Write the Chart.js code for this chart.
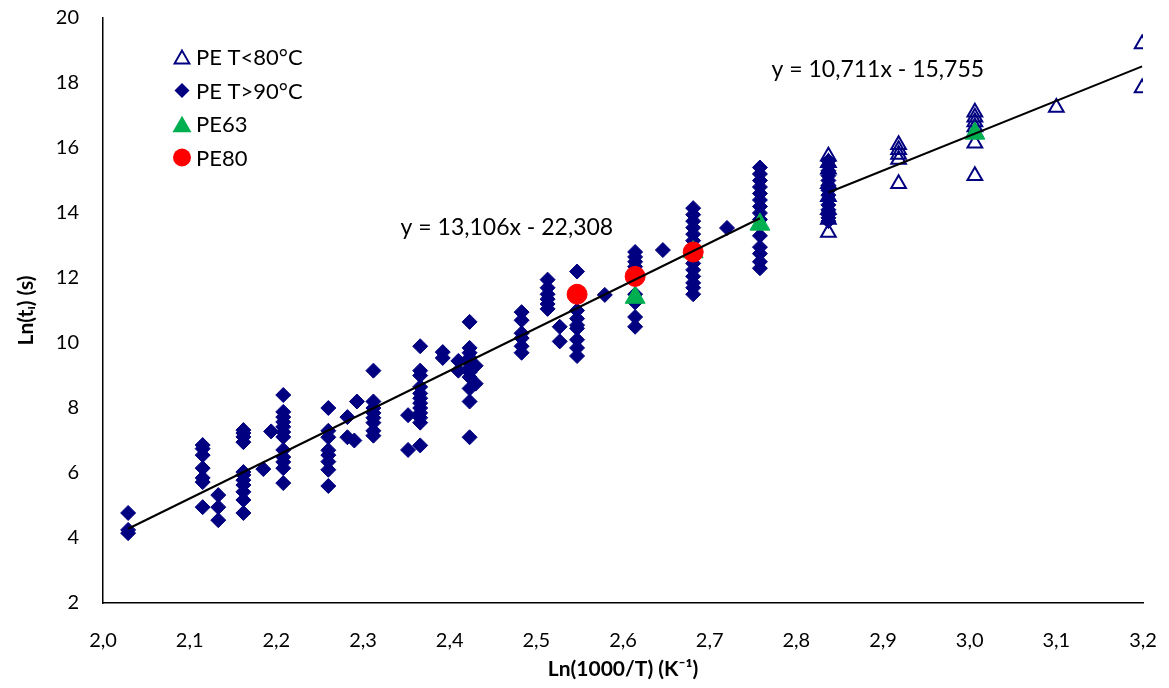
<!DOCTYPE html>
<html>
<head>
<meta charset="utf-8">
<script src="https://cdn.jsdelivr.net/npm/chart.js"></script>
<style>
    html, body { margin: 0; padding: 0; background: #fff; }
    #wrap { width: 1169px; height: 688px; }
</style>
</head>
<body>
<div id="wrap"><canvas id="myScatterChart"></canvas></div>
<script>
// PE T>90°C: vị trí cột Ln(1000/T) và các giá trị Ln(ti) của mỗi cột
const hotColumnsX = [2.029, 2.115, 2.133, 2.162, 2.185, 2.194, 2.208, 2.26, 2.282, 2.29, 2.293, 2.312,
    2.352, 2.366, 2.392, 2.41, 2.423, 2.43, 2.483, 2.513, 2.527, 2.547, 2.579, 2.614, 2.646, 2.681,
    2.72, 2.758, 2.837];
const hotColumnsY = [
    [4.77, 4.25, 4.15],
    [6.86, 6.75, 6.55, 6.15, 5.85, 5.72, 4.95],
    [5.32, 4.95, 4.55],
    [7.32, 7.23, 7.11, 6.95, 6.03, 5.94, 5.78, 5.63, 5.42, 5.17, 4.77],
    [6.12],
    [7.28],
    [8.4, 7.88, 7.72, 7.57, 7.42, 7.26, 7.11, 6.71, 6.49, 6.34, 6.15, 5.69],
    [8.0, 7.3, 7.1, 6.7, 6.55, 6.35, 6.1, 5.6],
    [7.72, 7.1],
    [7.0],
    [8.2],
    [9.15, 8.2, 8.0, 7.85, 7.7, 7.55, 7.3, 7.15],
    [7.78, 6.71],
    [9.9, 9.15, 9.0, 8.65, 8.45, 8.3, 8.15, 8.0, 7.85, 7.7, 7.55, 6.85],
    [9.72, 9.54],
    [9.45, 9.15],
    [10.65, 9.85, 9.7, 9.55, 9.4, 9.25, 9.1, 8.95, 8.6, 8.2, 7.1],
    [9.3, 8.75],
    [10.95, 10.7, 10.3, 10.15, 9.9, 9.7],
    [11.95, 11.7, 11.5, 11.35, 11.2, 11.05],
    [10.5, 10.05],
    [12.2, 11.0, 10.75, 10.55, 10.45, 10.1, 9.85, 9.6],
    [11.48],
    [12.8, 12.65, 12.5, 12.35, 12.2, 11.5, 11.25, 10.8, 10.5],
    [12.86],
    [14.15, 13.95, 13.75, 13.55, 13.35, 13.15, 12.95, 12.65, 12.45, 12.25, 12.05, 11.85, 11.7, 11.5],
    [13.54],
    [15.4, 15.2, 15.0, 14.8, 14.6, 14.4, 14.2, 14.0, 13.8, 13.3, 12.95, 12.75, 12.5, 12.3],
    [15.6, 15.45, 15.3, 15.15, 15.0, 14.85, 14.7, 14.55, 14.4, 14.25, 14.1, 13.95, 13.85, 13.75]
];

// PE T<80°C
const coldColumnsX = [2.837, 2.918, 3.006, 3.1, 3.199];
const coldColumnsY = [
    [15.75, 15.55, 15.35, 14.9, 14.5, 14.1, 13.8, 13.4],
    [16.1, 15.95, 15.8, 15.65, 14.9],
    [17.1, 16.95, 16.8, 16.65, 16.5, 16.15, 15.15],
    [17.25],
    [19.2, 17.85]
];

const pe63X = [2.614, 2.681, 2.758, 3.006];
const pe63Y = [11.4, 12.8, 13.65, 16.45];

const pe80X = [2.547, 2.614, 2.681];
const pe80Y = [11.5, 12.05, 12.8];

// Đường xu hướng: y = a*x + b
const fitSlopes = [13.106, 10.711];
const fitIntercepts = [-22.308, -15.755];
const fitFromX = [2.029, 2.837];
const fitToX = [2.758, 3.199];
const fitLabels = ['y = 13,106x - 22,308', 'y = 10,711x - 15,755'];

const seriesNames = ['PE T<80°C', 'PE T>90°C', 'PE63', 'PE80'];

const xMin = 2.0, xMax = 3.2, xStep = 0.1;
const yMin = 2, yMax = 20, yStep = 2;

const columnsToPoints = (xs, ys) => xs.flatMap((x, i) => ys[i].map(y => ({x: x, y: y})));
const pairsToPoints = (xs, ys) => xs.map((x, i) => ({x: x, y: ys[i]}));

const NAVY = '#000080';
const GREEN = '#00B050';
const RED = '#FF0000';
const FONT = 'Lato';

const fitDatasets = fitSlopes.map((a, i) => ({
    label: 'fit' + i,
    data: [fitFromX[i], fitToX[i]].map(x => ({x: x, y: a * x + fitIntercepts[i]})),
    showLine: true,
    borderColor: '#000',
    borderWidth: 2,
    pointRadius: 0,
    fill: false,
    order: 0
}));

function drawMarker(ctx, shape, cx, cy, r) {
    ctx.beginPath();
    if (shape === 'triangle') {
        const c = cy + r / 4;
        ctx.moveTo(cx, c - r);
        ctx.lineTo(cx + r * 0.866, c + r / 2);
        ctx.lineTo(cx - r * 0.866, c + r / 2);
        ctx.closePath();
    } else if (shape === 'diamond') {
        ctx.moveTo(cx, cy - r);
        ctx.lineTo(cx + r, cy);
        ctx.lineTo(cx, cy + r);
        ctx.lineTo(cx - r, cy);
        ctx.closePath();
    } else {
        ctx.arc(cx, cy, r, 0, Math.PI * 2);
    }
}

const legendMarks = [
    {shape: 'triangle', color: NAVY, fill: false, r: 8.5},
    {shape: 'diamond', color: NAVY, fill: true, r: 7.5},
    {shape: 'triangle', color: GREEN, fill: true, r: 11},
    {shape: 'circle', color: RED, fill: true, r: 9}
];

const extraText = {
    id: 'extraText',
    afterDraw(chart) {
        const ctx = chart.ctx;
        const sx = chart.scales.x, sy = chart.scales.y;
        ctx.save();
        ctx.fillStyle = '#000';
        ctx.font = '23px ' + FONT;
        ctx.textAlign = 'center';
        ctx.textBaseline = 'middle';
        const labelX = [2.466, 2.894], labelY = [13.55, 18.4];
        fitLabels.forEach((t, i) => ctx.fillText(t, sx.getPixelForValue(labelX[i]), sy.getPixelForValue(labelY[i])));

        // chú giải bên trong vùng vẽ
        ctx.textAlign = 'left';
        ctx.font = '22px ' + FONT;
        seriesNames.forEach((name, i) => {
            const m = legendMarks[i];
            const cy = 57 + i * 33.5;
            drawMarker(ctx, m.shape, 182, cy, m.r);
            if (m.fill) {
                ctx.fillStyle = m.color;
                ctx.fill();
            } else {
                ctx.strokeStyle = m.color;
                ctx.lineWidth = 2;
                ctx.stroke();
            }
            ctx.fillStyle = '#000';
            ctx.fillText(name, 196, cy + 1);
        });
        ctx.restore();
    }
};

const myScatterChart = new Chart(document.getElementById('myScatterChart'), {
    type: 'scatter',
    data: {
        datasets: [{
            label: seriesNames[0],
            data: columnsToPoints(coldColumnsX, coldColumnsY),
            pointStyle: 'triangle',
            pointRadius: 8.5,
            borderColor: NAVY,
            backgroundColor: 'rgba(0,0,0,0)',
            borderWidth: 2,
            order: 4
        }, {
            label: seriesNames[1],
            data: columnsToPoints(hotColumnsX, hotColumnsY),
            pointStyle: 'rectRot',
            pointRadius: 7.5,
            borderColor: NAVY,
            backgroundColor: NAVY,
            borderWidth: 1,
            order: 3
        }, {
            label: seriesNames[2],
            data: pairsToPoints(pe63X, pe63Y),
            pointStyle: 'triangle',
            pointRadius: 11.5,
            borderColor: GREEN,
            backgroundColor: GREEN,
            borderWidth: 1,
            order: 2
        }, {
            label: seriesNames[3],
            data: pairsToPoints(pe80X, pe80Y),
            pointStyle: 'circle',
            pointRadius: 10,
            borderColor: RED,
            backgroundColor: RED,
            borderWidth: 1,
            order: 1
        }].concat(fitDatasets)
    },
    options: {
        responsive: true,
        maintainAspectRatio: false,
        animation: false,
        layout: { padding: { left: 0, right: 26, top: 18, bottom: 0 } },
        plugins: {
            legend: { display: false },
            tooltip: { enabled: false }
        },
        scales: {
            x: {
                type: 'linear',
                min: xMin,
                max: xMax,
                afterFit: (scale) => {
                    scale.height = 85;
                    scale.paddingLeft = 0;
                    scale.paddingRight = 0;
                },
                grid: { display: false, drawTicks: false },
                border: { display: true, color: '#000', width: 1.5 },
                ticks: {
                    stepSize: xStep,
                    autoSkip: false,
                    padding: 26,
                    color: '#000',
                    font: { family: FONT, size: 20 },
                    callback: (v) => v.toFixed(1).replace('.', ',')
                },
                title: {
                    display: true,
                    text: 'Ln(1000/T) (K⁻¹)',
                    color: '#000',
                    font: { family: FONT, size: 21, weight: 'bold' },
                    padding: { top: 6, bottom: 6 }
                }
            },
            y: {
                min: yMin,
                max: yMax,
                afterFit: (scale) => {
                    scale.width = 103;
                    scale.paddingTop = 0;
                    scale.paddingBottom = 0;
                },
                grid: { display: false, drawTicks: false },
                border: { display: true, color: '#000', width: 1.5 },
                ticks: {
                    stepSize: yStep,
                    padding: 24,
                    color: '#000',
                    font: { family: FONT, size: 20 }
                },
                title: {
                    display: true,
                    text: 'Ln(tᵢ) (s)',
                    color: '#000',
                    font: { family: FONT, size: 21, weight: 'bold' },
                    padding: { top: 14, bottom: 0 }
                }
            }
        }
    },
    plugins: [extraText]
});
</script>
</body>
</html>
